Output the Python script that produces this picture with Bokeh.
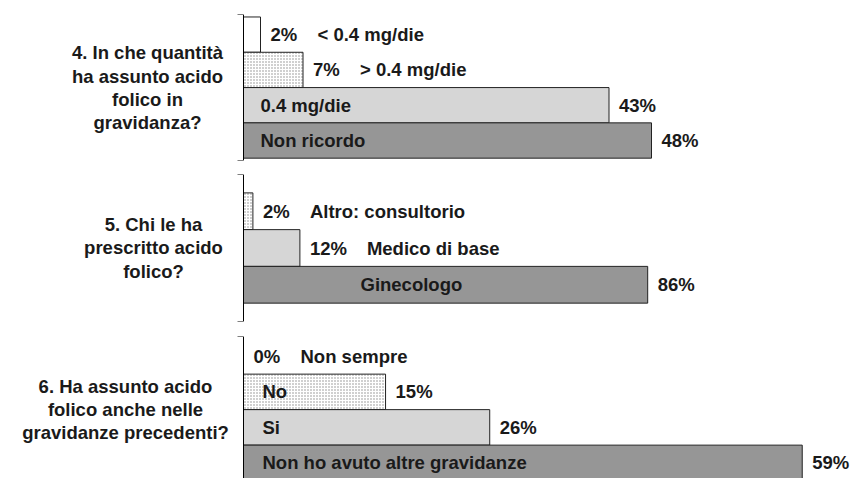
from bokeh.plotting import figure
from bokeh.layouts import column
from bokeh.models import Range1d, FixedTicker, Label, ColumnDataSource
from bokeh.core.properties import value
from bokeh.embed import file_html
from bokeh.resources import INLINE

# ---------------- data ----------------
q1_question = "4. In che quantità\nha assunto acido\nfolico in\ngravidanza?"
q1_categories = ["< 0.4 mg/die", "> 0.4 mg/die", "0.4 mg/die", "Non ricordo"]
q1_values = [2, 7, 43, 48]

q2_question = "5. Chi le ha\nprescritto acido\nfolico?"
q2_categories = ["Altro: consultorio", "Medico di base", "Ginecologo"]
q2_values = [2, 12, 86]

q3_question = "6. Ha assunto acido\nfolico anche nelle\ngravidanze precedenti?"
q3_categories = ["Non sempre", "No", "Si", "Non ho avuto altre gravidanze"]
q3_values = [0, 15, 26, 59]

# ---------------- styles ----------------
FONT = "Liberation Sans"
TXT = "#1a1a1a"
FSIZE = "18.5px"
FILLS = {"white": ("white", " "), "dots": ("white", "dot"),
         "light": ("#d6d6d6", " "), "dark": ("#969696", " ")}

groups = [
    dict(question=q1_question, cats=q1_categories, vals=q1_values,
         fills=["white", "dots", "light", "dark"],
         inside=[None, None, 17, 17],
         height=168, bt=14, bb=8, px_per_pct=8.5, slot=35.3, pad=0.07, q_off=-96),
    dict(question=q2_question, cats=q2_categories, vals=q2_values,
         fills=["dots", "light", "dark"],
         inside=[None, None, 117],
         height=160, bt=6, bb=7, px_per_pct=4.7, slot=36.75, pad=0.5, q_off=-90),
    dict(question=q3_question, cats=q3_categories, vals=q3_values,
         fills=["white", "dots", "light", "dark"],
         inside=[None, 19, 19, 19],
         height=150, bt=8, bb=0, px_per_pct=9.47, slot=35.5, pad=0.06, q_off=-118),
]

WIDTH = 852
ZERO_X = 243   # pixel where the 0% baseline sits

figs = []
for g in groups:
    n = len(g["cats"])
    frame_h = g["height"] - g["bt"] - g["bb"]
    x_start = -ZERO_X / g["px_per_pct"]
    x_end = (WIDTH - ZERO_X) / g["px_per_pct"]
    y_top = -g["pad"]
    y_bot = y_top + frame_h / g["slot"]
    band_end = n + g["pad"]
    ticks = [y_top]
    if band_end <= y_bot + 0.1:
        ticks.append(y_bot)

    p = figure(width=WIDTH, height=g["height"],
               x_range=Range1d(x_start, x_end), y_range=Range1d(y_bot, y_top),
               output_backend="svg", toolbar_location=None,
               min_border_left=0, min_border_right=0,
               min_border_top=g["bt"], min_border_bottom=g["bb"],
               x_axis_location=None)
    p.outline_line_color = None
    p.grid.visible = False
    p.background_fill_color = "white"
    p.border_fill_color = "white"

    ax = p.yaxis[0]
    ax.fixed_location = 0
    ax.ticker = FixedTicker(ticks=ticks)
    ax.major_label_overrides = {t: "" for t in ticks}
    ax.major_tick_out = 6
    ax.major_tick_in = 0
    ax.minor_tick_out = 0
    ax.minor_tick_in = 0
    ax.axis_line_color = "black"
    ax.major_tick_line_color = "black"

    ys = [i + 0.5 for i in range(n)]
    fill_c = [FILLS[f][0] for f in g["fills"]]
    hatch = [FILLS[f][1] for f in g["fills"]]
    src = ColumnDataSource(dict(y=ys, v=g["vals"], fc=fill_c, hp=hatch))
    p.hbar(y="y", left=0, right="v", height=1.0, source=src,
           fill_color="fc", hatch_pattern="hp", hatch_color="#8a8a8a",
           hatch_scale=3, hatch_weight=1.1,
           line_color="#222222", line_width=1)

    pct_txt = [f"{v}%" for v in g["vals"]]
    pct_src = ColumnDataSource(dict(x=g["vals"], y=ys, t=pct_txt))
    p.text(x="x", y="y", text="t", source=pct_src, x_offset=10,
           text_align="left", text_baseline="middle",
           text_font=value(FONT), text_font_style="bold",
           text_font_size=FSIZE, text_color=TXT)

    nx, noff = [], []
    for v, ins, pt in zip(g["vals"], g["inside"], pct_txt):
        if ins is None:
            nx.append(v)
            noff.append(10 + len(pt) * 10 + 27)
        else:
            nx.append(0)
            noff.append(ins)
    name_src = ColumnDataSource(dict(x=nx, y=ys, t=g["cats"], xo=noff))
    p.text(x="x", y="y", text="t", source=name_src, x_offset="xo",
           text_align="left", text_baseline="middle",
           text_font=value(FONT), text_font_style="bold",
           text_font_size=FSIZE, text_color=TXT)

    p.add_layout(Label(x=0, y=n / 2, x_units="data", y_units="data",
                       x_offset=g["q_off"], text=g["question"],
                       text_align="center", text_baseline="middle",
                       text_font=FONT, text_font_style="bold",
                       text_font_size=FSIZE, text_line_height=1.1,
                       text_color=TXT))
    figs.append(p)

layout = column(*figs, spacing=0)
open("out.html", "w").write(file_html(layout, INLINE))
